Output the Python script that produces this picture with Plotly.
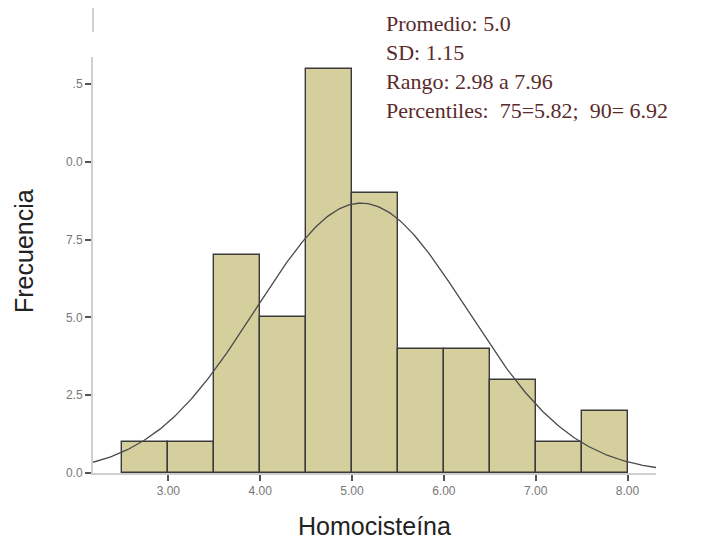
import numpy as np
import plotly.graph_objects as go

# Data
bin_left = [2.5, 3.0, 3.5, 4.0, 4.5, 5.0, 5.5, 6.0, 6.5, 7.0, 7.5]
counts = [1, 1, 7, 5, 13, 9, 4, 4, 3, 1, 2]
bin_width = 0.5
x_ticks = [3, 4, 5, 6, 7, 8]
x_ticktext = ["3.00", "4.00", "5.00", "6.00", "7.00", "8.00"]
y_ticks = [0, 2.5, 5, 7.5, 10, 12.5]
y_ticktext = ["0.0", "2.5", "5.0", "7.5", "0.0", ".5"]
curve_mean = 5.1
curve_sd = 1.15
stats_lines = ["Promedio: 5.0", "SD: 1.15", "Rango: 2.98 a 7.96",
               "Percentiles:\u00a0\u00a075=5.82;\u00a0 90=\u00a06.92"]
y_title = "Frecuencia"
x_title = "Homocisteína"

x_range = [2.18, 8.31]
y_range = [0, 13.37]

centers = [b + bin_width / 2 for b in bin_left]
n_total = sum(counts)

xs = np.linspace(x_range[0], x_range[1], 300)
ys = n_total * bin_width / (curve_sd * np.sqrt(2 * np.pi)) * np.exp(-((xs - curve_mean) ** 2) / (2 * curve_sd ** 2))

# page offset of the figure (browser body margin)
OFF = 8
PL, PT, PW, PH = 93, 57, 563, 416  # plot area in page pixels

fig = go.Figure()
fig.add_trace(go.Bar(
    x=centers, y=counts, width=[bin_width] * len(centers),
    marker=dict(color="#d4cf9c", line=dict(color="#3a3a3a", width=1.4)),
    showlegend=False, hoverinfo="skip",
))
fig.add_trace(go.Scatter(
    x=xs, y=ys, mode="lines", line=dict(color="#4a4a4a", width=1.3),
    showlegend=False, hoverinfo="skip",
))

for i, t in enumerate(stats_lines):
    yc = 24 + i * 28.7
    fig.add_annotation(
        text=t, xref="paper", yref="paper", x=(384 - PL) / PW, y=1 + (PT - yc) / PH,
        xanchor="left", yanchor="middle", showarrow=False,
        font=dict(family="Liberation Serif", size=22, color="#5a2b2b"),
    )

# y-axis title placed as rotated annotation
fig.add_annotation(
    text=y_title, xref="paper", yref="paper", x=(24 - PL) / PW, y=1 + (PT - 251) / PH,
    xanchor="center", yanchor="middle", textangle=-90, showarrow=False,
    font=dict(family="Liberation Sans", size=25, color="#222"),
)

# faint axis remnant above plot
fig.add_shape(type="line", xref="paper", yref="paper", x0=0, x1=0,
              y0=1 + (PT - 32) / PH, y1=1 + (PT - 6) / PH,
              line=dict(color="#d0d0d0", width=2))

fig.update_layout(
    width=714, height=541,
    margin=dict(l=PL - OFF, r=714 - (PL + PW) + OFF, t=PT - OFF, b=541 - (PT + PH) + OFF),
    plot_bgcolor="white", paper_bgcolor="white",
    bargap=0,
    font=dict(family="Liberation Sans"),
    xaxis=dict(
        range=x_range, tickvals=x_ticks, ticktext=x_ticktext,
        showgrid=False, zeroline=False, showline=True, linecolor="#cfcfcf", linewidth=2,
        ticks="outside", ticklen=6, tickcolor="#555", tickwidth=1.5,
        tickfont=dict(size=12, color="#777"),
        title=dict(text=x_title, font=dict(size=25, color="#222"), standoff=20),
    ),
    yaxis=dict(
        range=y_range, tickvals=y_ticks, ticktext=y_ticktext,
        showgrid=False, zeroline=False, showline=True, linecolor="#cfcfcf", linewidth=2,
        ticks="outside", ticklen=6, tickcolor="#555", tickwidth=1.5,
        tickfont=dict(size=12, color="#777"),
    ),
)

fig.write_html("out.html")
